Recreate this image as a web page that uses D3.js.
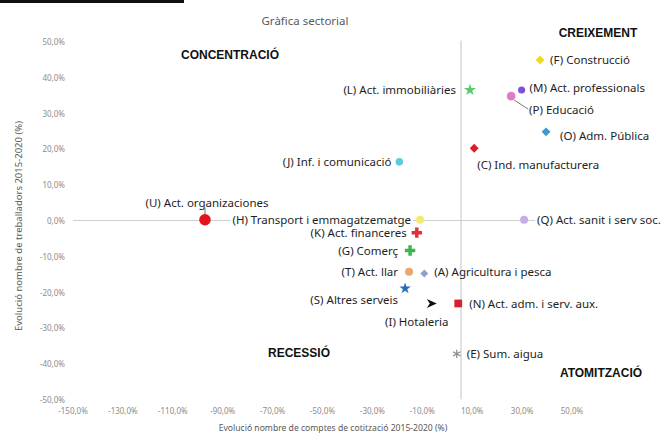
<!DOCTYPE html>
<html>
<head>
<meta charset="utf-8">
<style>
body { margin: 0; background: #fff; }
svg { display: block; }
.tick-label { font: 8px "Noto Sans", sans-serif; fill: #8c8c8c; }
.lbl { font: 11.5px "Noto Sans", sans-serif; fill: #1e1e1e; }
.quad { font: bold 12px "Liberation Sans", Arial, sans-serif; fill: #111; }
.title { font: 11.5px "Noto Sans", sans-serif; fill: #595959; }
.axis-title { font: 9.5px "Noto Sans", sans-serif; fill: #595959; }
.x-title { font-size: 8.6px; }
</style>
</head>
<body>
<div id="chart"></div>
<script src="https://cdnjs.cloudflare.com/ajax/libs/d3/7.8.5/d3.min.js"></script>
<script>

// sectors, x = evolució comptes de cotització, y = evolució treballadors (%)
var codes = ["F", "M", "P", "L", "O", "C", "J", "U", "H", "Q", "K", "G", "T", "A", "S", "I", "N", "E"];
var sectors = [
  "(F) Construcció", "(M) Act. professionals", "(P) Educació", "(L) Act. immobiliàries",
  "(O) Adm. Pública", "(C) Ind. manufacturera", "(J) Inf. i comunicació", "(U) Act. organizaciones",
  "(H) Transport i emmagatzematge", "(Q) Act. sanit i serv soc.", "(K) Act. financeres", "(G) Comerç",
  "(T) Act. llar", "(A) Agricultura i pesca", "(S) Altres serveis", "(I) Hotaleria",
  "(N) Act. adm. i serv. aux.", "(E) Sum. aigua"
];
var comptes = [37.2, 29.8, 25.6, 9.1, 39.6, 10.8, -19.2, -97.1, -10.9, 30.8, -12.2, -14.9, -15.3, -9.2, -16.9, -6.2, 4.4, 3.8];
var treballadors = [44.9, 36.5, 34.8, 36.5, 24.8, 20.2, 16.4, 0.2, 0.2, 0.2, -3.4, -8.4, -14.3, -14.8, -19.0, -23.2, -23.2, -37.3];

var xTicks = [-150, -130, -110, -90, -70, -50, -30, -10, 10, 30, 50];
var yTicks = [50, 40, 30, 20, 10, 0, -10, -20, -30, -40, -50];
var quadrants = ["CONCENTRACIÓ", "CREIXEMENT", "RECESSIÓ", "ATOMITZACIÓ"];
var crossX = 5.5;

var width = 663, height = 434;

var svg = d3.select("#chart").append("svg")
  .attr("width", width)
  .attr("height", height);

var x = d3.scaleLinear().domain([-150, 50]).range([73, 572]);
var y = d3.scaleLinear().domain([-50, 50]).range([399.3, 41.7]);
var fmt = d => d.toFixed(1).replace(".", ",") + "%";

// marker look per sector
var markStyle = {
  F: {shape: d3.symbolDiamond2, size: 50, fill: "#f2d91a"},
  M: {shape: d3.symbolCircle, size: 40, fill: "#7a52d8"},
  P: {shape: d3.symbolCircle, size: 60, fill: "#e07cc4"},
  L: {shape: d3.symbolStar, size: 45, fill: "#5ccb6a"},
  O: {shape: d3.symbolDiamond2, size: 50, fill: "#3a9ccf"},
  C: {shape: d3.symbolDiamond2, size: 50, fill: "#d61f26"},
  J: {shape: d3.symbolCircle, size: 45, fill: "#5ccbdc"},
  U: {shape: d3.symbolCircle, size: 105, fill: "#e3141c"},
  H: {shape: d3.symbolCircle, size: 50, fill: "#f4ea6e"},
  Q: {shape: d3.symbolCircle, size: 50, fill: "#c4aee6"},
  K: {shape: d3.symbolCross, size: 60, fill: "#e0303a"},
  G: {shape: d3.symbolCross, size: 60, fill: "#3fb44c"},
  T: {shape: d3.symbolCircle, size: 50, fill: "#eaa86a"},
  A: {shape: d3.symbolDiamond2, size: 40, fill: "#8aa2cc"},
  S: {shape: d3.symbolStar, size: 40, fill: "#2b6cb8"},
  I: {shape: "arrow", size: 0, fill: "#111"},
  N: {shape: d3.symbolSquare, size: 60, fill: "#d3222a"},
  E: {shape: d3.symbolAsterisk, size: 50, fill: "#8a8a8a"}
};

// label placement relative to marker
var lblPos = {
  F: {dx: 10, dy: 0, a: "start"},
  M: {dx: 8, dy: -2, a: "start"},
  P: {dx: 18, dy: 13, a: "start", lead: [3, 4, 17, 13]},
  L: {dx: -14, dy: 0, a: "end"},
  O: {dx: 14, dy: 4, a: "start"},
  C: {dx: 3, dy: 16, a: "start"},
  J: {dx: -8, dy: 0, a: "end"},
  U: {dx: 2, dy: -17, a: "middle", lead: [0, -12, 0, -5]},
  H: {dx: -9, dy: 0, a: "end", bg: true},
  Q: {dx: 13, dy: 0, a: "start", bg: true},
  K: {dx: -10, dy: 0, a: "end"},
  G: {dx: -12, dy: 0, a: "end"},
  T: {dx: -11, dy: 0, a: "end"},
  A: {dx: 10, dy: -2, a: "start"},
  S: {dx: -7, dy: 11, a: "end"},
  I: {dx: -15, dy: 18, a: "middle"},
  N: {dx: 11, dy: 0, a: "start"},
  E: {dx: 10, dy: 0, a: "start"}
};

// black rule on the top left
svg.append("rect").attr("x", 0).attr("y", 0).attr("width", 184).attr("height", 3).attr("fill", "#111");

svg.append("text").attr("class", "title")
  .attr("x", 305).attr("y", 20).attr("text-anchor", "middle").attr("dominant-baseline", "central")
  .text("Gràfica sectorial");

// axis lines through the crossing point
svg.append("line")
  .attr("x1", x(-150)).attr("x2", x(50))
  .attr("y1", y(0)).attr("y2", y(0))
  .attr("stroke", "#cfcfcf").attr("stroke-width", 1);
svg.append("line")
  .attr("x1", x(crossX)).attr("x2", x(crossX))
  .attr("y1", y(50) - 1).attr("y2", y(-50))
  .attr("stroke", "#c4c4c4").attr("stroke-width", 1);

// tick labels (low position)
svg.selectAll(".ytick").data(yTicks).enter().append("text")
  .attr("class", "tick-label")
  .attr("x", 65).attr("y", d => y(d))
  .attr("text-anchor", "end").attr("dominant-baseline", "central")
  .text(fmt);
svg.selectAll(".xtick").data(xTicks).enter().append("text")
  .attr("class", "tick-label")
  .attr("x", d => x(d)).attr("y", 410)
  .attr("text-anchor", "middle").attr("dominant-baseline", "central")
  .text(fmt);

svg.append("text").attr("class", "axis-title")
  .attr("transform", "translate(18,226) rotate(-90)")
  .attr("text-anchor", "middle").attr("dominant-baseline", "central")
  .text("Evolució nombre de treballadors 2015-2020 (%)");
svg.append("text").attr("class", "axis-title x-title")
  .attr("x", 333).attr("y", 428)
  .attr("text-anchor", "middle").attr("dominant-baseline", "central")
  .text("Evolució nombre de comptes de cotització 2015-2020 (%)");

// quadrant names
var quadPos = [[230, 55], [598, 33], [299, 353], [601, 373]];
svg.selectAll(".quad").data(quadrants).enter().append("text")
  .attr("class", "quad")
  .attr("x", (d, i) => quadPos[i][0]).attr("y", (d, i) => quadPos[i][1])
  .attr("text-anchor", "middle").attr("dominant-baseline", "central")
  .text(d => d);

var pts = codes.map((c, i) => ({code: c, name: sectors[i], x: comptes[i], y: treballadors[i]}));

// leader lines
svg.selectAll(".lead").data(pts.filter(d => lblPos[d.code].lead)).enter().append("line")
  .attr("x1", d => x(d.x) + lblPos[d.code].lead[0]).attr("y1", d => y(d.y) + lblPos[d.code].lead[1])
  .attr("x2", d => x(d.x) + lblPos[d.code].lead[2]).attr("y2", d => y(d.y) + lblPos[d.code].lead[3])
  .attr("stroke", "#555").attr("stroke-width", 0.8);

// markers
var arrowPath = "M-5,-4.5 L5,0 L-5,4.5 L-2,0 Z";
svg.selectAll(".mark").data(pts).enter().append("path")
  .attr("class", "mark")
  .attr("transform", d => `translate(${x(d.x)},${y(d.y)})`)
  .attr("d", d => {
    var s = markStyle[d.code];
    return s.shape === "arrow" ? arrowPath : d3.symbol().type(s.shape).size(s.size)();
  })
  .attr("fill", d => markStyle[d.code].fill)
  .attr("stroke", d => d.code === "E" ? "#8a8a8a" : "none")
  .attr("stroke-width", 1.2);

// labels
var lbl = svg.selectAll(".lblg").data(pts).enter().append("g")
  .attr("transform", d => `translate(${x(d.x) + lblPos[d.code].dx},${y(d.y) + lblPos[d.code].dy})`);
lbl.append("text")
  .attr("class", "lbl")
  .attr("text-anchor", d => lblPos[d.code].a)
  .attr("dominant-baseline", "central")
  .text(d => d.name);
lbl.each(function(d) {
  if (!lblPos[d.code].bg) return;
  var g = d3.select(this), b = g.select("text").node().getBBox();
  g.insert("rect", "text")
    .attr("x", b.x - 2).attr("y", -4).attr("width", b.width + 4).attr("height", 8)
    .attr("fill", "#fff");
});
</script>
</body>
</html>
